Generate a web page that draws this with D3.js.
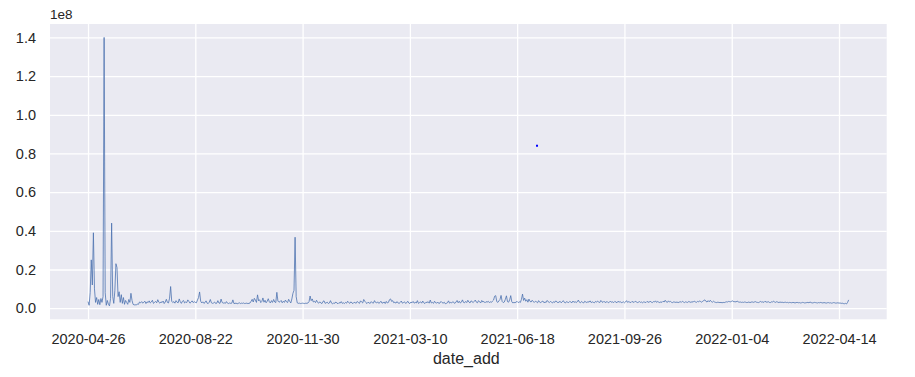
<!DOCTYPE html>
<html>
<head>
<meta charset="utf-8">
<script src="https://cdn.jsdelivr.net/npm/d3@7"></script>
<style>
  body { margin: 0; background: #ffffff; }
  svg { display: block; }
  text { font-family: "Liberation Sans", Arial, sans-serif; fill: #262626; }
</style>
</head>
<body>
<svg id="chart" width="915" height="377"></svg>
<script>
// ---- data (values in millions; the axis shows them with a 1e8 offset) ----
const valueUnit = 1e6;
const values = [
  3.4, 1.5, 8, 25, 12, 39, 10, 3, 5.5, 2,
  4.5, 1.8, 5, 3, 6, 140, 8, 1.5, 4, 2,
  1.2, 5, 44, 6, 2.5, 9, 23, 21, 6, 8.5,
  3, 7, 2.5, 5.5, 2, 4, 3, 2, 4.5, 3,
  7.7, 4, 2, 1.7, 1.8, 1.6, 2.2, 2, 3.2, 2.8,
  3.4, 2.6, 3.1, 3.6, 2.4, 3.3, 2.9, 3.8, 2.7, 3.2,
  4.1, 2.5, 3.0, 3.5, 2.8, 4.4, 3.1, 2.6, 3.3, 2.9,
  3.7, 2.4, 3.2, 4.6, 3.0, 2.7, 5.2, 11.2, 3.6, 2.9,
  3.4, 2.6, 3.9, 3.1, 2.8, 4.8, 3.3, 2.5, 3.6, 4.0,
  2.7, 3.2, 2.9, 4.3, 3.5, 2.6, 3.1, 3.8, 2.9, 3.4,
  3.0, 2.8, 4.2, 5.5, 8.4, 3.6, 2.7, 3.3, 2.5, 2.9,
  3.8, 2.6, 2.4, 3.1, 4.5, 2.8, 2.5, 2.7, 3.2, 2.4,
  2.6, 3.9, 2.7, 2.5, 4.7, 3.0, 2.6, 2.8, 2.5, 3.4,
  2.6, 2.4, 2.7, 2.5, 2.6, 4.3, 2.4, 2.5, 2.6, 2.3,
  2.5, 2.8, 2.4, 2.6, 2.5, 2.7, 2.4, 2.5, 2.6, 2.4,
  2.5, 2.7, 3.6, 4.6, 3.2, 5.1, 4.2, 3.0, 6.9, 3.8,
  4.4, 2.9, 3.5, 5.3, 3.1, 4.1, 2.8, 3.6, 4.9, 3.3,
  2.7, 3.9, 3.0, 4.5, 3.2, 2.9, 8.2, 3.7, 3.1, 3.4,
  4.0, 2.8, 3.6, 3.0, 4.2, 3.3, 2.9, 4.6, 3.5, 2.7,
  4.8, 7.7, 9.2, 36.7, 6.0, 2.8, 2.5, 2.6, 2.4, 2.5,
  2.6, 2.5, 2.4, 2.6, 2.5, 2.7, 3.4, 6.3, 3.9, 4.8,
  3.2, 3.6, 2.9, 4.1, 3.0, 2.6, 3.3, 2.7, 2.4, 3.5,
  3.8, 2.5, 2.8, 3.1, 2.4, 2.7, 3.9, 2.6, 2.2, 2.8,
  2.5, 3.2, 2.7, 2.3, 2.9, 2.6, 3.4, 2.5, 2.8, 2.4,
  3.0, 2.6, 3.6, 2.9, 2.5, 3.3, 2.7, 2.4, 3.1, 2.8,
  2.6, 3.5, 2.9, 2.5, 3.8, 3.2, 2.7, 4.5, 3.6, 2.9,
  2.4, 3.1, 2.7, 2.5, 3.4, 2.8, 2.6, 3.9, 3.0, 2.7,
  3.3, 2.5, 2.9, 3.6, 2.6, 2.8, 3.2, 2.4, 3.5, 2.7,
  3.0, 4.4, 4.8, 3.5, 3.9, 2.8, 3.1, 2.6, 3.4, 2.7,
  2.5, 3.0, 3.7, 2.6, 2.9, 3.3, 2.5, 2.8, 3.6, 2.7,
  2.4, 3.2, 2.8, 3.5, 2.6, 3.0, 2.7, 3.9, 2.5, 2.9,
  3.3, 2.6, 3.7, 2.8, 2.4, 3.1, 2.9, 3.4, 2.6, 4.2,
  2.7, 3.0, 2.5, 3.6, 2.8, 2.6, 3.2, 2.4, 2.7, 3.5,
  2.9, 2.6, 3.1, 2.3, 2.5, 2.8, 3.8, 2.6, 3.0, 2.7,
  3.4, 2.9, 2.5, 3.2, 4.0, 2.8, 3.6, 2.7, 3.1, 4.3,
  3.0, 2.8, 3.5, 2.9, 4.1, 3.2, 2.7, 3.8, 3.4, 2.9,
  3.6, 4.2, 3.1, 2.8, 3.9, 3.3, 2.7, 4.0, 3.2, 3.5,
  2.8, 3.4, 3.1, 3.6, 2.9, 3.3, 3.0, 3.7, 4.2, 6.2,
  6.5, 3.4, 3.0, 3.8, 4.5, 6.6, 3.5, 2.9, 3.2, 4.6,
  6.4, 3.4, 3.1, 4.3, 6.5, 3.3, 2.7, 3.0, 2.8, 3.2,
  3.5, 2.9, 3.3, 3.0, 4.6, 7.3, 4.0, 5.2, 3.6, 4.4,
  3.1, 4.7, 3.5, 3.2, 4.1, 3.4, 3.0, 3.6, 3.3, 2.8,
  3.9, 3.1, 2.9, 3.4, 3.7, 2.8, 3.2, 3.0, 4.0, 3.3,
  2.9, 3.5, 3.1, 2.7, 3.4, 3.0, 3.8, 3.2, 2.9, 3.1,
  3.6, 2.8, 3.3, 3.9, 3.0, 2.7, 3.4, 3.1, 2.9, 3.5,
  3.2, 2.8, 3.7, 3.0, 3.4, 2.9, 3.3, 4.2, 3.1, 2.8,
  3.5, 3.0, 2.7, 3.6, 3.2, 2.9, 3.4, 3.1, 3.8, 2.9,
  3.3, 3.0, 2.8, 3.5, 3.1, 3.7, 3.2, 2.9, 4.0, 3.3,
  3.0, 3.6, 2.9, 3.2, 3.4, 2.8, 3.1, 3.7, 3.0, 3.3,
  2.9, 3.5, 3.2, 2.8, 3.6, 3.1, 3.4, 2.9, 3.0, 3.3,
  2.8, 3.2, 3.9, 3.0, 3.4, 3.1, 2.9, 3.5, 3.2, 3.0,
  3.6, 3.3, 2.9, 3.1, 3.4, 3.0, 3.2, 2.8, 3.3, 3.1,
  2.9, 3.5, 3.2, 3.0, 3.7, 3.1, 2.9, 3.4, 3.2, 3.8,
  3.0, 3.5, 3.1, 2.9, 3.3, 3.0, 3.6, 3.2, 4.1, 3.3,
  3.0, 3.8, 3.2, 3.5, 3.0, 2.9, 3.3, 3.1, 3.0, 3.2,
  2.9, 3.1, 3.4, 3.0, 3.6, 3.2, 2.9, 3.3, 3.1, 3.0,
  3.5, 3.2, 3.0, 3.4, 3.1, 3.7, 3.3, 3.0, 3.5, 3.2,
  3.8, 3.4, 3.1, 3.6, 4.0, 4.3, 3.5, 3.2, 3.9, 3.3,
  4.1, 3.4, 3.1, 3.6, 3.2, 3.0, 2.9, 3.1, 3.0, 2.9,
  3.0, 2.8, 3.0, 2.9, 3.1, 3.3, 3.2, 3.5, 3.4, 3.3,
  3.6, 3.8, 3.3, 3.4, 3.2, 3.7, 3.3, 3.1, 3.2, 3.0,
  3.1, 3.0, 3.2, 3.1, 2.9, 3.0, 3.2, 2.9, 3.1, 3.3,
  3.0, 3.2, 3.4, 3.1, 3.0, 2.9, 3.2, 3.5, 3.1, 3.3,
  3.0, 3.6, 3.2, 3.1, 3.4, 3.0, 2.9, 3.3, 3.1, 3.7,
  3.2, 3.0, 3.4, 3.1, 2.9, 3.2, 3.0, 3.1, 2.9, 3.0,
  3.1, 2.9, 3.0, 2.8, 3.0, 2.9, 2.8, 3.0, 2.9, 2.7,
  2.9, 3.0, 2.8, 2.9, 2.7, 2.8, 3.0, 2.9, 2.7, 2.8,
  2.9, 3.0, 2.8, 3.2, 2.9, 2.7, 2.8, 3.0, 2.9, 2.8,
  2.7, 2.9, 2.8, 3.0, 2.8, 2.7, 2.9, 2.8, 2.6, 2.8,
  2.9, 2.7, 2.8, 2.6, 2.7, 2.9, 2.8, 2.6, 2.7, 2.8,
  2.6, 2.7, 2.5, 2.6, 2.4, 2.3, 2.5, 2.2, 3.0, 4.3
];

// x positions are category indices (one per date string); labelled every 100 categories
const xTickIndex  = [0, 100, 200, 300, 400, 500, 600, 700];
const xTickLabels = ["2020-04-26", "2020-08-22", "2020-11-30", "2021-03-10",
                     "2021-06-18", "2021-09-26", "2022-01-04", "2022-04-14"];
const yTicks      = [0, 0.2e8, 0.4e8, 0.6e8, 0.8e8, 1.0e8, 1.2e8, 1.4e8];
const yTickLabels = ["0.0", "0.2", "0.4", "0.6", "0.8", "1.0", "1.2", "1.4"];
const yOffsetLabel = "1e8";
const xAxisTitle = "date_add";
// the lone blue marker in the plot area: [category index, value in millions]
const markerPoint = [418.5, 84];

// ---- layout ----
const svg = d3.select("#chart");
const plot = { left: 50, top: 24, right: 886.7, bottom: 319.3 };
const tickFont = "14.5px";

const n = values.length;
const xPad = (n - 1) * 0.05;
const x = d3.scaleLinear()
  .domain([-xPad, (n - 1) + xPad])
  .range([plot.left, plot.right]);

const vals = values.map(v => v * valueUnit);
const [vmin, vmax] = d3.extent(vals);
const yPad = (vmax - vmin) * 0.05;
const y = d3.scaleLinear()
  .domain([vmin - yPad, vmax + yPad])
  .range([plot.bottom, plot.top]);

// background
svg.append("rect")
  .attr("x", plot.left).attr("y", plot.top)
  .attr("width", plot.right - plot.left).attr("height", plot.bottom - plot.top)
  .attr("fill", "#EAEAF2");

// gridlines via axes
const gx = svg.append("g")
  .attr("transform", `translate(0,${plot.bottom})`)
  .call(d3.axisBottom(x).tickValues(xTickIndex)
    .tickSize(-(plot.bottom - plot.top))
    .tickFormat((d, i) => xTickLabels[i]).tickPadding(14));
gx.select(".domain").remove();
gx.selectAll(".tick line").attr("stroke", "#ffffff").attr("stroke-width", 1.3);
gx.selectAll(".tick text")
  .attr("font-size", tickFont).attr("fill", "#262626")
  .style("font-family", "'Liberation Sans', Arial, sans-serif");

const gy = svg.append("g")
  .attr("transform", `translate(${plot.left},0)`)
  .call(d3.axisLeft(y).tickValues(yTicks)
    .tickSize(-(plot.right - plot.left))
    .tickFormat((d, i) => yTickLabels[i]).tickPadding(14));
gy.select(".domain").remove();
gy.selectAll(".tick line").attr("stroke", "#ffffff").attr("stroke-width", 1.3);
gy.selectAll(".tick text")
  .attr("font-size", tickFont).attr("fill", "#262626")
  .style("font-family", "'Liberation Sans', Arial, sans-serif");

// offset text
svg.append("text")
  .attr("x", plot.left).attr("y", 19)
  .attr("font-size", "13.5px")
  .text(yOffsetLabel);

// x axis title
svg.append("text")
  .attr("x", (plot.left + plot.right) / 2 - 2).attr("y", 364)
  .attr("text-anchor", "middle")
  .attr("font-size", "16px")
  .text(xAxisTitle);

// line
const line = d3.line()
  .x((d, i) => x(i))
  .y(d => y(d));

svg.append("path")
  .datum(vals)
  .attr("fill", "none")
  .attr("stroke", "#4C72B0")
  .attr("stroke-width", 0.8)
  .attr("stroke-linejoin", "round")
  .attr("d", line);

// marker point
svg.append("rect")
  .attr("x", x(markerPoint[0]) - 1)
  .attr("y", y(markerPoint[1] * valueUnit) - 1)
  .attr("width", 2).attr("height", 2)
  .attr("fill", "#0000ff");
</script>
</body>
</html>
